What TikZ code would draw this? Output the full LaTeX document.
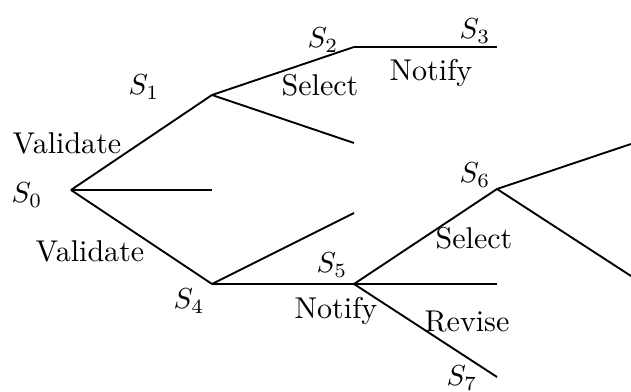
\documentclass[tikz,border=0pt]{standalone}
\begin{document}
\begin{tikzpicture}[x=0.346pt,y=-0.346pt,
    edge/.style={line width=0.65pt,line join=round},
    lbl/.style={inner sep=0pt,anchor=center,font=\fontsize{10.4pt}{12pt}\selectfont}]
\useasboundingbox (0,0) rectangle (631,392);

% states and free ends of the branches
\coordinate (s0) at (71,190);
\coordinate (s1) at (212,95);
\coordinate (s2) at (354,47);
\coordinate (s3) at (497,47);
\coordinate (e1) at (354,143);
\coordinate (e0) at (212,190);
\coordinate (s4) at (212,284);
\coordinate (e4) at (354,213);
\coordinate (s5) at (354,284);
\coordinate (e5) at (497,284);
\coordinate (s6) at (497,189);
\coordinate (s7) at (497,377);
\coordinate (e6a) at (631,144);
\coordinate (e6b) at (631,276);

% branches
\draw[edge] (s0) -- (s1);
\draw[edge] (s0) -- (e0);
\draw[edge] (s0) -- (s4);
\draw[edge] (s1) -- (s2);
\draw[edge] (s2) -- (s3);
\draw[edge] (s1) -- (e1);
\draw[edge] (s4) -- (e4);
\draw[edge] (s4) -- (s5);
\draw[edge] (s5) -- (s6);
\draw[edge] (s5) -- (e5);
\draw[edge] (s5) -- (s7);
\draw[edge] (s6) -- (e6a);
\draw[edge] (s6) -- (e6b);

% state names
\node[lbl] (l0) at (27,195) {$S_0$};
\node[lbl] (l1) at (144,87) {$S_1$};
\node[lbl] (l2) at (323,40) {$S_2$};
\node[lbl] (l3) at (475,31) {$S_3$};
\node[lbl] (l4) at (189,301) {$S_4$};
\node[lbl] (l5) at (332,265) {$S_5$};
\node[lbl] (l6) at (475,175) {$S_6$};
\node[lbl] (l7) at (462,378) {$S_7$};

% action names
\node[lbl] (a1) at (67,143) {Validate};
\node[lbl] (a2) at (90,251) {Validate};
\node[lbl] (a3) at (320,85) {Select};
\node[lbl] (a4) at (431,73) {Notify};
\node[lbl] (a5) at (474,238) {Select};
\node[lbl] (a6) at (336,311) {Notify};
\node[lbl] (a7) at (467,322) {Revise};
\end{tikzpicture}
\end{document}
